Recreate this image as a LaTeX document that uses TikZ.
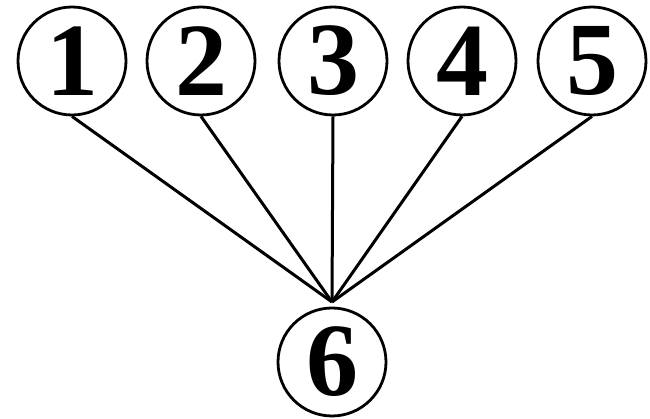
\documentclass[tikz,border=0pt]{standalone}
\usepackage{fontspec}
\setmainfont{Liberation Serif}
\usetikzlibrary{positioning}

\begin{document}
\begin{tikzpicture}[
    x=1pt, y=1pt,
    vertex/.style={draw=black, circle, line width=2.8pt, minimum size=108pt, inner sep=0pt,
                   font=\fontsize{104}{104}\selectfont\bfseries},
    link/.style={line width=3pt}
]
\useasboundingbox (0,0) rectangle (650,419);

% ---- top row ----
\foreach \i/\x in {1/72, 2/201, 3/333, 4/462, 5/592}
    \node[vertex] (n\i) at (\x,358) {\i};

% ---- bottom node ----
\node[vertex] (n6) at (332,57) {6};
\coordinate (hub) at (332,117);

% ---- links ----
\foreach \i in {1,...,5}
    \draw[link] (n\i.south) -- (hub);

\end{tikzpicture}
\end{document}
